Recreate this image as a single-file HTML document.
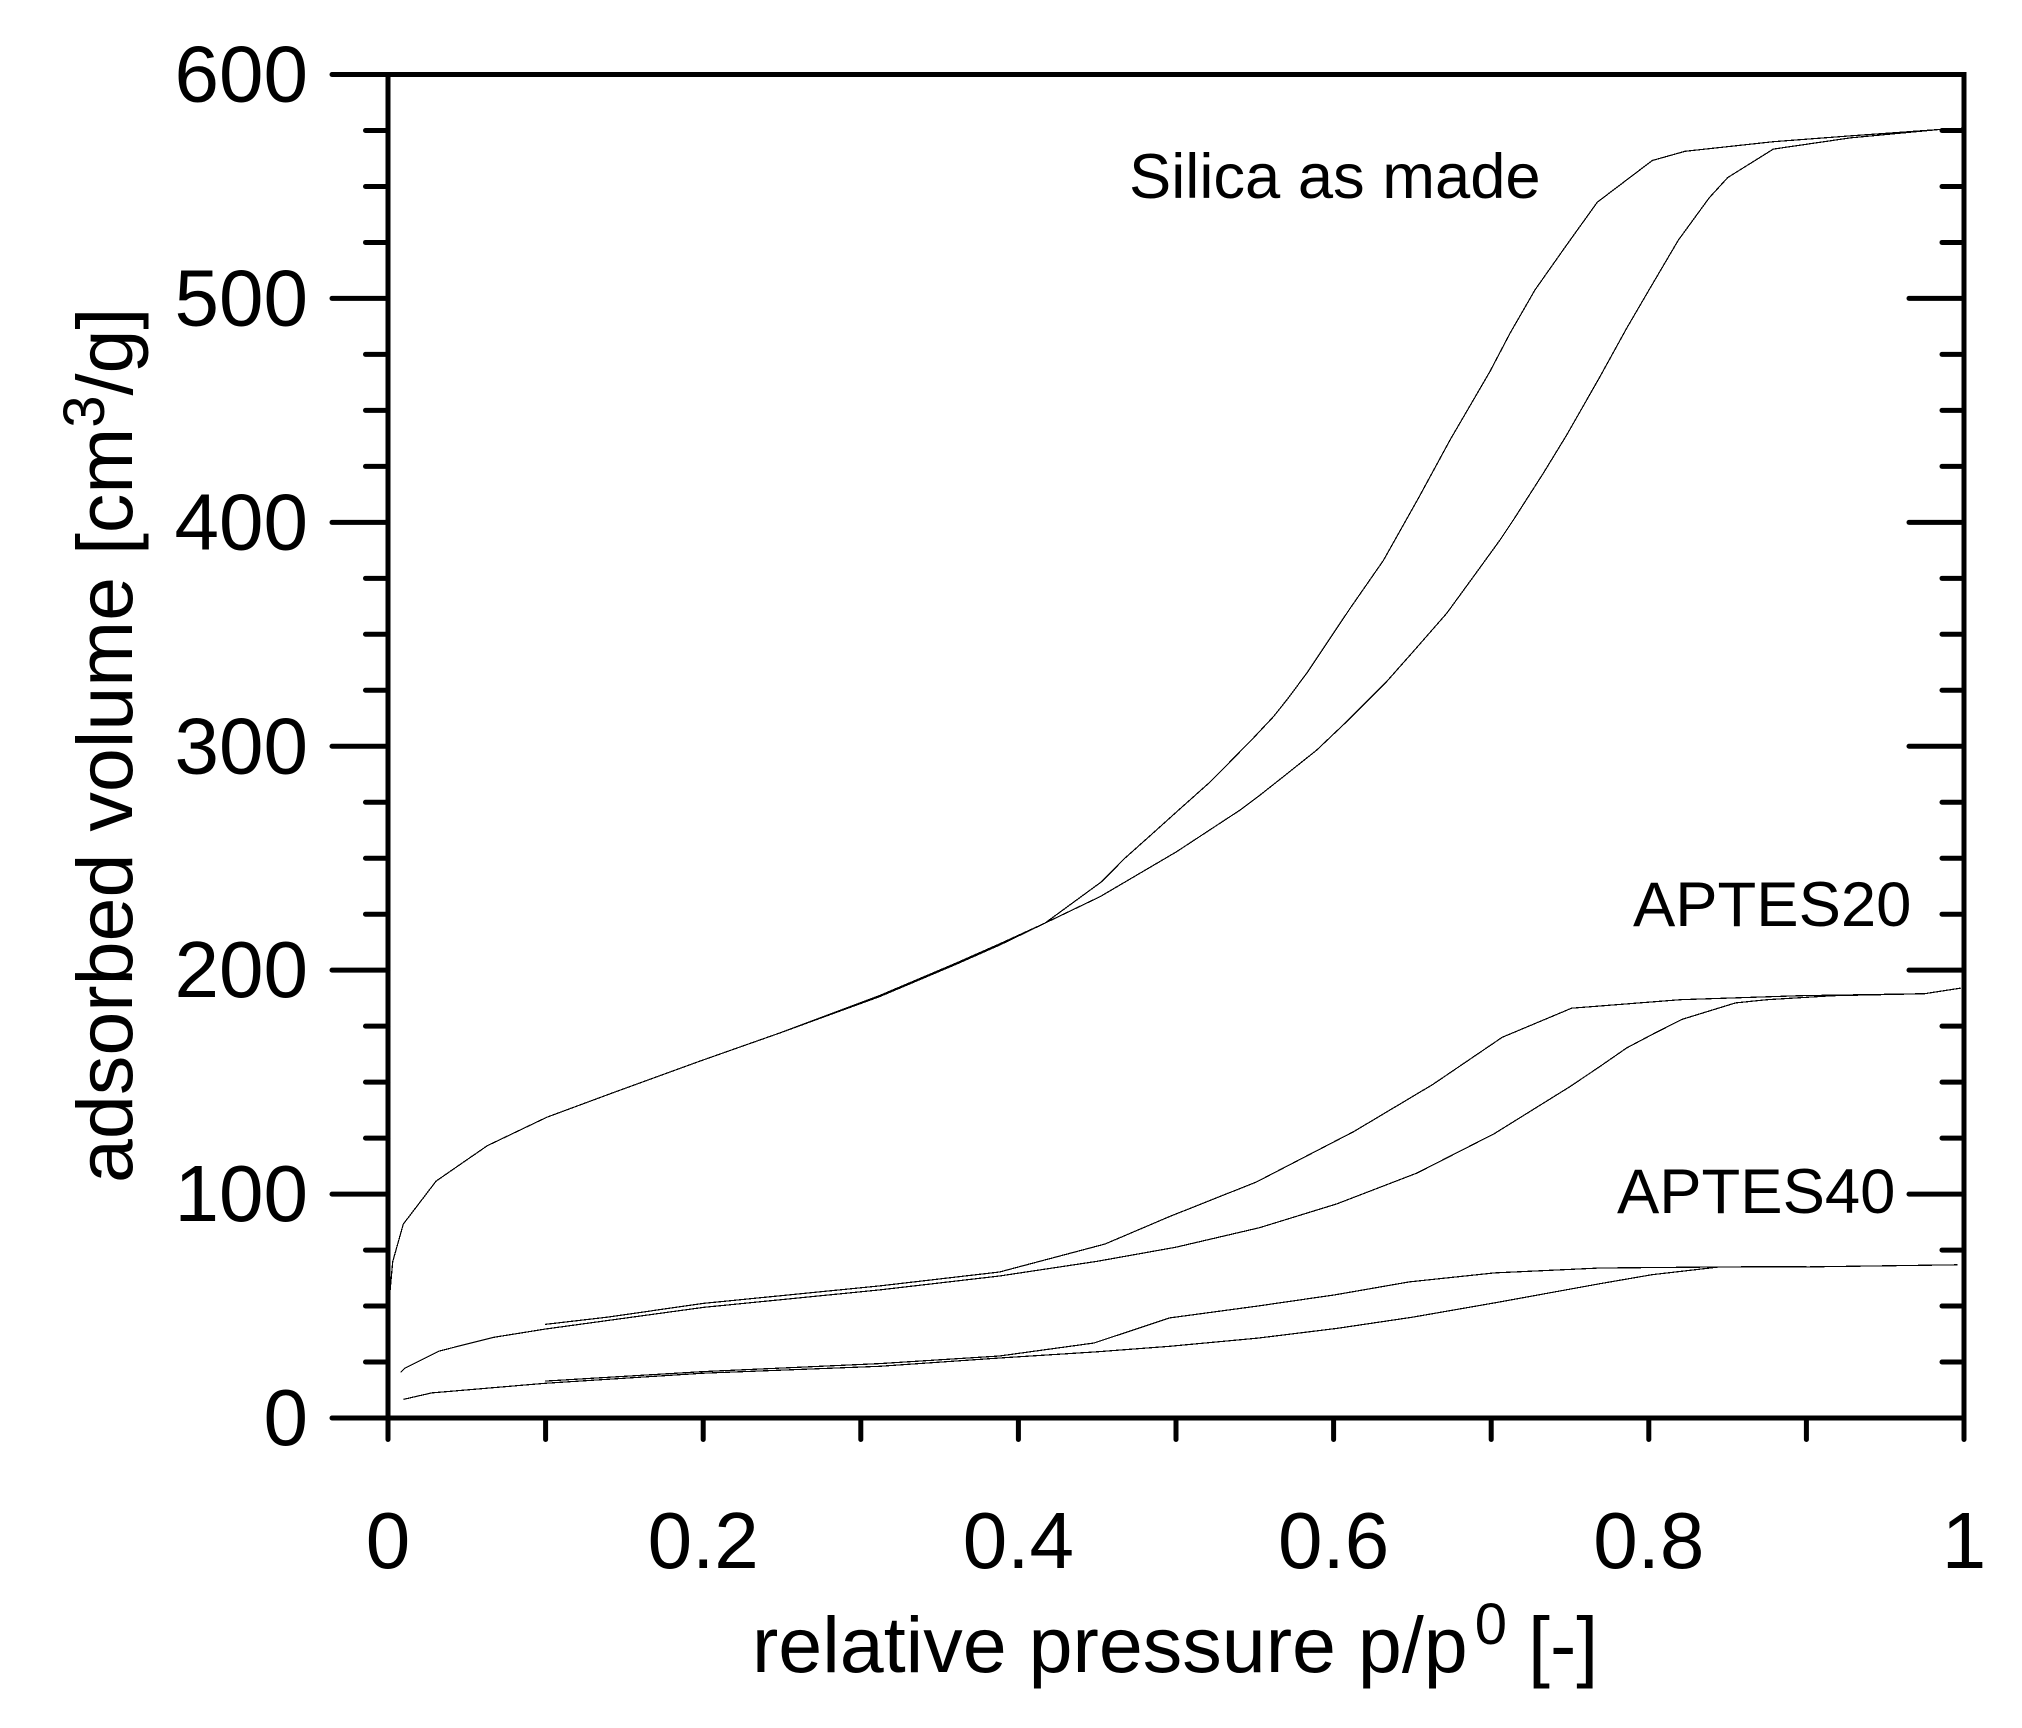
<!DOCTYPE html>
<html lang="en">
<head>
<meta charset="utf-8">
<title>Adsorption isotherms</title>
<style>
html,body{margin:0;padding:0;background:#fff;}
svg{display:block;}
text{font-family:"Liberation Sans",Arial,sans-serif;fill:#000;}
</style>
</head>
<body>
<svg id="chart" xmlns="http://www.w3.org/2000/svg" width="2022" height="1728" viewBox="0 0 2022 1728">
  <rect x="0" y="0" width="2022" height="1728" fill="#fff"/>
  <g id="curves"></g>
  <g id="ticks"></g>
  <g id="ticklabels"></g>
  <rect x="388" y="74.5" width="1576" height="1343.5" fill="none" stroke="#000" stroke-width="5"/>
  <text x="752" y="1672" font-size="79">relative pressure p/p<tspan font-size="58" dx="7" dy="-28">0</tspan><tspan dx="21" dy="28">[-]</tspan></text>
  <text transform="translate(132,1183) rotate(-90)" x="0" y="0" font-size="79">adsorbed volume [cm<tspan font-size="58" dy="-28">3</tspan><tspan dy="28">/g]</tspan></text>
  <text x="1129" y="198" font-size="63.3">Silica as made</text>
  <text x="1633" y="926" font-size="63.4">APTES20</text>
  <text x="1617" y="1213" font-size="63.4">APTES40</text>
</svg>
<script>
const xTicks = [0, 0.2, 0.4, 0.6, 0.8, 1];
const xTickLabels = ["0", "0.2", "0.4", "0.6", "0.8", "1"];
const xMinorTicks = [0.1, 0.3, 0.5, 0.7, 0.9];
const yTicks = [0, 100, 200, 300, 400, 500, 600];
const yTickLabels = ["0", "100", "200", "300", "400", "500", "600"];
const yMinorTicks = [25, 50, 75, 125, 150, 175, 225, 250, 275, 325, 350, 375, 425, 450, 475, 525, 550, 575];

const silicaAdsP = [0.0013,0.003,0.0097,0.0305,0.063,0.1007,0.143,0.198,0.2487,0.312,0.36,0.3883,0.4169,0.4518,0.5004,0.5406,0.5533,0.5681,0.5893,0.6083,0.6337,0.6506,0.6718,0.6887,0.7056,0.714,0.7331,0.7479,0.769,0.786,0.8008,0.8187,0.8384,0.8501,0.879,0.9277,0.985,1];
const silicaAdsV = [56.4,69.8,86.6,105.8,121.6,134.3,145.3,159.4,172,188.2,202.5,211.3,221,232.8,252.9,271.5,278.2,286.4,298.3,311,328.9,342.3,359.4,375.7,392.1,401,422,439,465,486.7,504.6,526,545,554,566.7,571.7,575.5,576];
const silicaDesP = [0.2487,0.312,0.36,0.3883,0.4169,0.4528,0.4676,0.4835,0.5025,0.5216,0.5321,0.549,0.5618,0.5703,0.5829,0.602,0.6104,0.6316,0.6538,0.6739,0.6992,0.7119,0.7278,0.7479,0.7674,0.8022,0.823,0.879,0.9277,0.985,1];
const silicaDesV = [172,188.7,203,211.8,221,239.5,250,260,272,284,291.5,303.6,313.2,320.7,332.6,352.7,361.5,383,410.8,436.8,467.3,484.4,503.8,523.9,543,561.6,565.7,570,572.6,575.5,576];

const aptes20AdsP = [0.008,0.0108,0.0326,0.0668,0.0996,0.2,0.312,0.388,0.45,0.5,0.553,0.602,0.653,0.702,0.75,0.769,0.786,0.803,0.821,0.855,0.875,0.917,0.975,0.998];
const aptes20AdsV = [20.4,22.3,29.9,36,39.7,49.4,57.2,63.4,70,76.3,85,95.6,109.4,127,148,157,165.3,171.6,178,185.4,186.8,188.6,189.5,192];
const aptes20DesP = [0.0996,0.139,0.2,0.312,0.388,0.455,0.496,0.551,0.613,0.663,0.707,0.751,0.769,0.82,0.896,0.975];
const aptes20DesV = [41.8,45,51.2,59,65.2,77.7,90,105.4,128,149,170,183,184,186.8,188.6,189.5];

const aptes40AdsP = [0.0097,0.0277,0.0996,0.2,0.312,0.388,0.449,0.496,0.552,0.602,0.65,0.702,0.769,0.802,0.845,0.9,0.996];
const aptes40AdsV = [8.3,11.2,15.5,20,23.1,26.8,29.5,32,35.7,40,45,51.4,60,64,67.5,67.5,68.4];
const aptes40DesP = [0.0996,0.2,0.312,0.388,0.448,0.496,0.552,0.601,0.648,0.702,0.769,0.851,0.9];
const aptes40DesV = [16.5,20.7,24.3,27.7,33.5,44.7,50,55,60.8,64.8,67,67.5,67.6];

const NS = 'http://www.w3.org/2000/svg';
const xScale = p => 388 + p * 1576;
const yScale = v => 1418 - v * (1343.5 / 600);

function makeLine(parent, x1, y1, x2, y2, width) {
  const l = document.createElementNS(NS, 'line');
  l.setAttribute('x1', x1);
  l.setAttribute('y1', y1);
  l.setAttribute('x2', x2);
  l.setAttribute('y2', y2);
  l.setAttribute('stroke', '#000');
  l.setAttribute('stroke-width', width);
  l.setAttribute('stroke-linecap', 'round');
  parent.appendChild(l);
  return l;
}

const ticksGroup = document.getElementById('ticks');
xTicks.concat(xMinorTicks).forEach(function (t) {
  const l = makeLine(ticksGroup, xScale(t), 1418, xScale(t), 1439.5, 5);
  
  
});
yTicks.forEach(function (t) {
  const a = makeLine(ticksGroup, 332, yScale(t), 388, yScale(t), 5);
  
  
  const b = makeLine(ticksGroup, 1909, yScale(t), 1964, yScale(t), 5);
  
  
});
yMinorTicks.forEach(function (t) {
  const a = makeLine(ticksGroup, 365.5, yScale(t), 388, yScale(t), 5);
  
  
  const b = makeLine(ticksGroup, 1942, yScale(t), 1964, yScale(t), 5);
  
  
});

const labelsGroup = document.getElementById('ticklabels');
xTicks.forEach(function (t, i) {
  const el = document.createElementNS(NS, 'text');
  el.setAttribute('x', xScale(t));
  el.setAttribute('y', 1568);
  el.setAttribute('text-anchor', 'middle');
  el.setAttribute('font-size', '80');
  el.textContent = xTickLabels[i];
  
  
  labelsGroup.appendChild(el);
});
yTicks.forEach(function (t, i) {
  const el = document.createElementNS(NS, 'text');
  el.setAttribute('x', 308);
  el.setAttribute('y', yScale(t) + 27);
  el.setAttribute('text-anchor', 'end');
  el.setAttribute('font-size', '80');
  el.textContent = yTickLabels[i];
  
  
  labelsGroup.appendChild(el);
});

function drawCurve(ps, vs) {
  const el = document.createElementNS(NS, 'polyline');
  el.setAttribute('points', ps.map(function (p, i) { return xScale(p).toFixed(1) + ',' + yScale(vs[i]).toFixed(1); }).join(' '));
  el.setAttribute('fill', 'none');
  el.setAttribute('stroke', '#000');
  el.setAttribute('stroke-width', '1.2');
  el.setAttribute('shape-rendering', 'crispEdges');
  document.getElementById('curves').appendChild(el);
  return el;
}

const c1 = drawCurve(silicaAdsP, silicaAdsV);


const c2 = drawCurve(silicaDesP, silicaDesV);


const c3 = drawCurve(aptes20AdsP, aptes20AdsV);


const c4 = drawCurve(aptes20DesP, aptes20DesV);


const c5 = drawCurve(aptes40AdsP, aptes40AdsV);


const c6 = drawCurve(aptes40DesP, aptes40DesV);


</script>
</body>
</html>
